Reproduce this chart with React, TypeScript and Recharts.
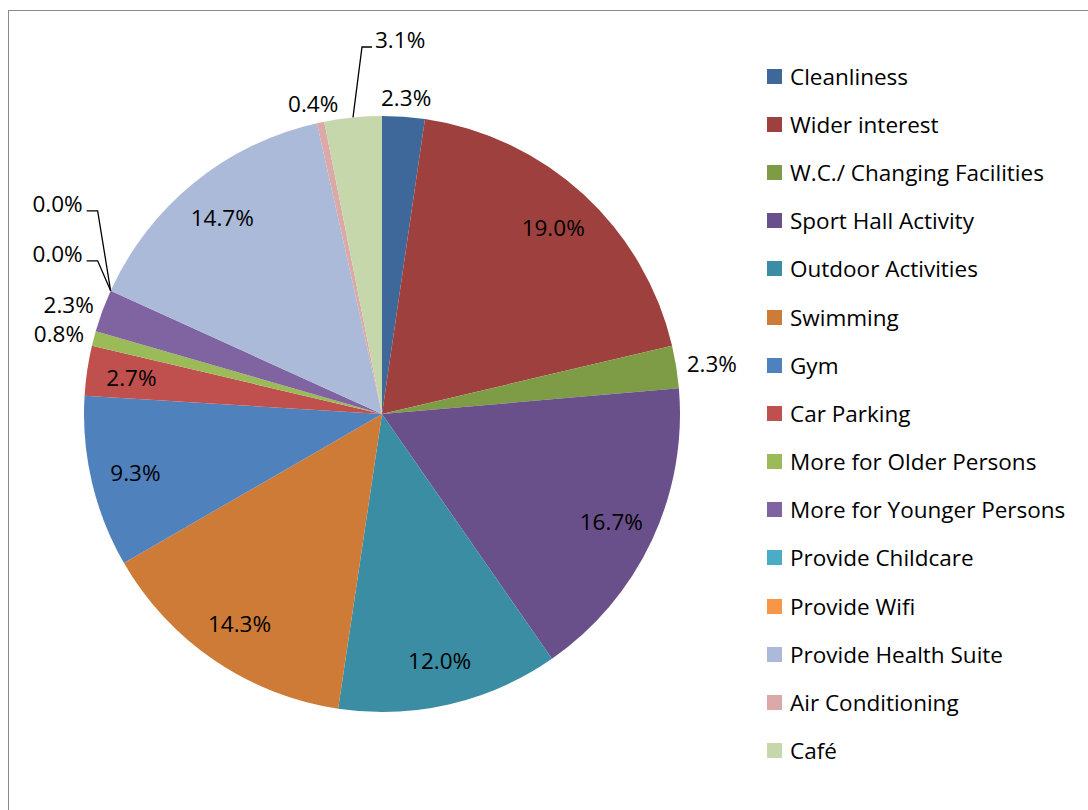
import React from "react";
import { PieChart, Pie, Cell, Legend } from "recharts";

const categories = [
  "Cleanliness",
  "Wider interest",
  "W.C./ Changing Facilities",
  "Sport Hall Activity",
  "Outdoor Activities",
  "Swimming",
  "Gym",
  "Car Parking",
  "More for Older Persons",
  "More for Younger Persons",
  "Provide Childcare",
  "Provide Wifi",
  "Provide Health Suite",
  "Air Conditioning",
  "Café",
];

const values = [2.3, 19.0, 2.3, 16.7, 12.0, 14.3, 9.3, 2.7, 0.8, 2.3, 0.0, 0.0, 14.7, 0.4, 3.1];

const colors = [
  "#3D6899",
  "#9E403D",
  "#7E9B46",
  "#6A508A",
  "#3A8DA3",
  "#CD7B37",
  "#4F81BD",
  "#C0504D",
  "#9BBB59",
  "#8064A2",
  "#4BACC6",
  "#F79646",
  "#AABAD8",
  "#DAA9A8",
  "#C6D7AC",
];

const data = categories.map((name, i) => ({ name, value: values[i] }));

const FONT = "'Open Sans', sans-serif";
const FS = 22.5;
const RAD = Math.PI / 180;

function renderLabel(props: any) {
  const { cx, cy, midAngle, outerRadius, index } = props;
  const value = values[index];
  const name = categories[index];
  const text = value.toFixed(1) + "%";
  const cos = Math.cos(-midAngle * RAD);
  const sin = Math.sin(-midAngle * RAD);
  const ex = cx + outerRadius * cos;
  const ey = cy + outerRadius * sin;
  const common = {
    fontFamily: FONT,
    fontSize: FS,
    fill: "#000",
  };

  if (name === "Café") {
    const kx = ex + 9;
    const ky = cy - outerRadius - 69;
    return (
      <g key={`lbl-${index}`}>
        <polyline
          points={`${ex},${ey} ${kx},${ky} ${kx + 10},${ky}`}
          stroke="#000"
          strokeWidth={1.3}
          fill="none"
        />
        <text x={kx + 13} y={ky - 8} textAnchor="start" dominantBaseline="central" {...common}>
          {text}
        </text>
      </g>
    );
  }

  if (name === "Provide Childcare" || name === "Provide Wifi") {
    const lift = name === "Provide Childcare" ? 30 : 80;
    const kx = ex - 13;
    const ky = ey - lift;
    return (
      <g key={`lbl-${index}`}>
        <polyline
          points={`${ex},${ey} ${kx},${ky} ${kx - 11},${ky}`}
          stroke="#000"
          strokeWidth={1.3}
          fill="none"
        />
        <text x={kx - 15} y={ky - 7} textAnchor="end" dominantBaseline="central" {...common}>
          {text}
        </text>
      </g>
    );
  }

  if (value >= 2.5) {
    const r = outerRadius * 0.85;
    return (
      <text
        key={`lbl-${index}`}
        x={cx + r * cos}
        y={cy + r * sin}
        textAnchor="middle"
        dominantBaseline="central"
        {...common}
      >
        {text}
      </text>
    );
  }

  const ar = outerRadius + 8;
  const ax = cx + ar * cos + cos * 28;
  const ay = cy + ar * sin + sin * 11;
  return (
    <text
      key={`lbl-${index}`}
      x={ax}
      y={ay}
      textAnchor="middle"
      dominantBaseline="central"
      {...common}
    >
      {text}
    </text>
  );
}

function renderLegend() {
  return (
    <div style={{ fontFamily: FONT, fontSize: FS, color: "#000" }}>
      {categories.map((name, i) => (
        <div
          key={name}
          style={{ display: "flex", alignItems: "center", height: 48.2, whiteSpace: "nowrap" }}
        >
          <span
            style={{
              display: "inline-block",
              width: 15,
              height: 15,
              background: colors[i],
              marginRight: 8,
              flexShrink: 0,
            }}
          />
          <span>{name}</span>
        </div>
      ))}
    </div>
  );
}

export default function App() {
  return (
    <div
      style={{
        position: "absolute",
        left: 8,
        top: 10,
        width: 1080,
        height: 800,
        borderLeft: "1px solid #8a8a8a",
        borderTop: "1px solid #8a8a8a",
        background: "#fff",
        overflow: "hidden",
      }}
    >
      <PieChart width={1079} height={799} margin={{ top: 0, right: 0, bottom: 0, left: 0 }}>
        <Pie
          data={data}
          dataKey="value"
          nameKey="name"
          cx={373}
          cy={403}
          outerRadius={298}
          startAngle={90}
          endAngle={-270}
          stroke="none"
          label={renderLabel}
          labelLine={false}
          isAnimationActive={false}
        >
          {data.map((d, i) => (
            <Cell key={d.name} fill={colors[i]} />
          ))}
        </Pie>
        <Legend
          layout="vertical"
          align="right"
          verticalAlign="top"
          content={renderLegend}
          wrapperStyle={{ position: "absolute", left: 758, top: 41, width: 330 }}
        />
      </PieChart>
    </div>
  );
}
